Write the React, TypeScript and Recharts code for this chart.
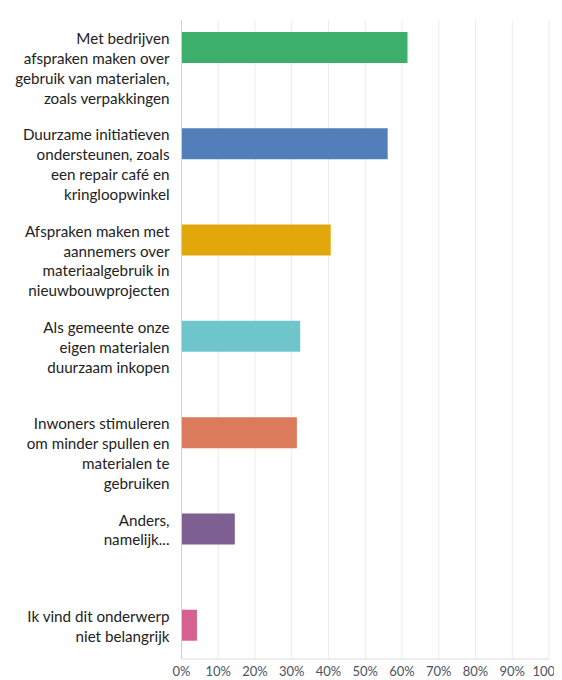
import { BarChart, Bar, XAxis, YAxis, CartesianGrid, Cell } from "recharts";

// Answer options (line breaks as in the original labels)
const OPTIONS = [
  "Met bedrijven\nafspraken maken over\ngebruik van materialen,\nzoals verpakkingen",
  "Duurzame initiatieven\nondersteunen, zoals\neen repair café en\nkringloopwinkel",
  "Afspraken maken met\naannemers over\nmateriaalgebruik in\nnieuwbouwprojecten",
  "Als gemeente onze\neigen materialen\nduurzaam inkopen",
  "Inwoners stimuleren\nom minder spullen en\nmaterialen te\ngebruiken",
  "Anders,\nnamelijk...",
  "Ik vind dit onderwerp\nniet belangrijk",
];

// Share of respondents, in percent
const SHARES = [61.5, 56.1, 40.6, 32.3, 31.4, 14.5, 4.2];

const BAR_COLORS = [
  "#3daf6c",
  "#527eba",
  "#e2a70b",
  "#6fc5cc",
  "#dc7b5c",
  "#7e5f91",
  "#d66090",
];

const X_TICKS = [0, 10, 20, 30, 40, 50, 60, 70, 80, 90, 100];

const data = OPTIONS.map((label, i) => ({ label, value: SHARES[i] }));

const FONT = "Lato, 'Open Sans', sans-serif";

// multi-line label, first line lined up with the top of the bar
function OptionTick(props: any) {
  const { x, y, payload } = props;
  const lines = String(payload.value).split("\n");
  return (
    <text
      x={x - 4}
      y={y - 3}
      textAnchor="end"
      fill="#222222"
      fontSize={15.2}
      fontFamily={FONT}
    >
      {lines.map((line, i) => (
        <tspan key={i} x={x - 4} dy={i === 0 ? 0 : 19.8}>
          {line}
        </tspan>
      ))}
    </text>
  );
}

export default function App() {
  return (
    <BarChart
      width={580}
      height={672}
      data={data}
      layout="vertical"
      margin={{ top: 12, right: 39, bottom: 0, left: 0 }}
    >
      <CartesianGrid horizontal={false} stroke="#ececec" />
      <XAxis
        type="number"
        domain={[0, 100]}
        ticks={X_TICKS}
        tickFormatter={(v) => `${v}%`}
        interval={0}
        height={21}
        tickSize={0}
        tickMargin={8}
        stroke="#dcdcdc"
        tick={{ fill: "#4a5361", fontSize: 13, fontFamily: FONT }}
      />
      <YAxis
        type="category"
        dataKey="label"
        width={173.5}
        padding={{ top: -21, bottom: -14 }}
        tickLine={false}
        stroke="#cfcfcf"
        tick={<OptionTick />}
        interval={0}
      />
      <Bar dataKey="value" barSize={31} isAnimationActive={false}>
        {data.map((d, i) => (
          <Cell key={d.label} fill={BAR_COLORS[i]} />
        ))}
      </Bar>
    </BarChart>
  );
}
